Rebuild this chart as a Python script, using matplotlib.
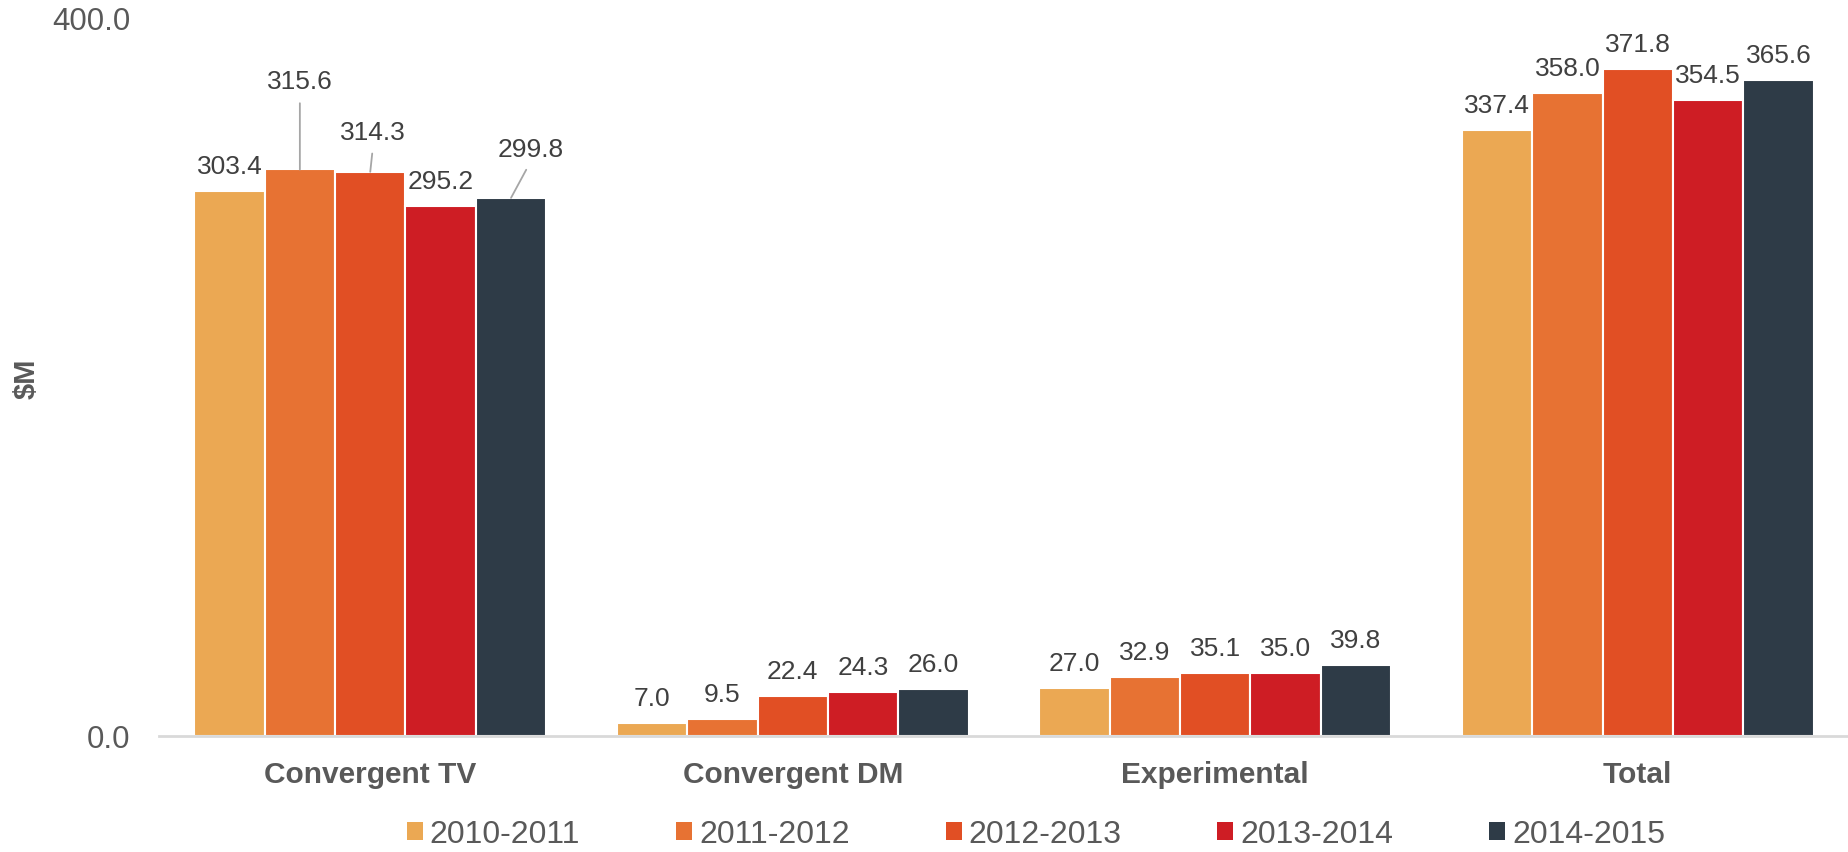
import matplotlib
matplotlib.use("Agg")
import matplotlib.pyplot as plt
import numpy as np

plt.rcParams['font.family'] = ['Liberation Sans', 'DejaVu Sans']

categories = ["Convergent TV", "Convergent DM", "Experimental", "Total"]
series = ["2010-2011", "2011-2012", "2012-2013", "2013-2014", "2014-2015"]
values = {
    "2010-2011": [303.4, 7.0, 27.0, 337.4],
    "2011-2012": [315.6, 9.5, 32.9, 358.0],
    "2012-2013": [314.3, 22.4, 35.1, 371.8],
    "2013-2014": [295.2, 24.3, 35.0, 354.5],
    "2014-2015": [299.8, 26.0, 39.8, 365.6],
}
colors = ["#EBA853", "#E77233", "#E14F24", "#CE1D24", "#2E3B47"]
yticks = [0.0, 400.0]

# label offsets in pixels (dx, dy of label centre from bar top centre), leader flag
label_offsets = {
    (0, 1): (0, 88, True),
    (0, 2): (3, 40, True),
    (0, 4): (20, 49, True),
}
default_offset = (0, 25, False)

W, H = 1849, 853
fig = plt.figure(figsize=(W / 100, H / 100), dpi=100)
ax = fig.add_axes([159 / W, (H - 737) / H, (W - 159) / W, (737 - 19) / H])

x = np.arange(len(categories))
n = len(series)
group_w = 0.833
bw = group_w / n
for i, s in enumerate(series):
    xs = x - group_w / 2 + bw * (i + 0.5)
    ax.bar(xs, values[s], width=bw, color=colors[i], edgecolor="white",
           linewidth=1.5, label=s, zorder=3)
    for j, (xx, v) in enumerate(zip(xs, values[s])):
        dx, dy, leader = label_offsets.get((j, i), default_offset)
        kw = dict(xy=(xx, v), xytext=(dx, dy), textcoords="offset pixels",
                  ha="center", va="center", fontsize=19, color="#404040", zorder=4)
        if leader:
            kw["arrowprops"] = dict(arrowstyle="-", color="#A6A6A6", lw=1.3,
                                    relpos=(0.5, 0.0), shrinkA=5, shrinkB=0)
        ax.annotate(f"{v:.1f}", **kw)

ax.set_xlim(-0.5, len(categories) - 0.5)
ax.set_ylim(0, 400)
ax.set_yticks(yticks)
ax.set_yticklabels([f"{t:.1f}" for t in yticks], fontsize=22.5, color="#595959")
ax.set_xticks(x)
ax.set_xticklabels(categories, fontsize=21.5, fontweight="bold", color="#595959")
ax.tick_params(axis="both", length=0)
ax.tick_params(axis="x", pad=17)
ax.tick_params(axis="y", pad=20.5)
for sp in ["top", "right", "left"]:
    ax.spines[sp].set_visible(False)
ax.spines["bottom"].set_color("#D9D9D9")
ax.spines["bottom"].set_linewidth(2)
ax.spines["bottom"].set_zorder(5)

fig.text(27 / W, 1 - 379 / H, "$M", rotation=90, ha="center", va="center",
         fontsize=21, fontweight="bold", color="#595959")

leg = fig.legend(loc="center", bbox_to_anchor=(1036 / W, 1 - 835 / H), ncol=5,
                 frameon=False, fontsize=23, handlelength=0.5, handleheight=0.5,
                 handletextpad=0.22, columnspacing=3.0, borderaxespad=0)
for t in leg.get_texts():
    t.set_color("#595959")
for h in leg.legend_handles:
    h.set_edgecolor("none")

fig.savefig("out.png", dpi=100)
